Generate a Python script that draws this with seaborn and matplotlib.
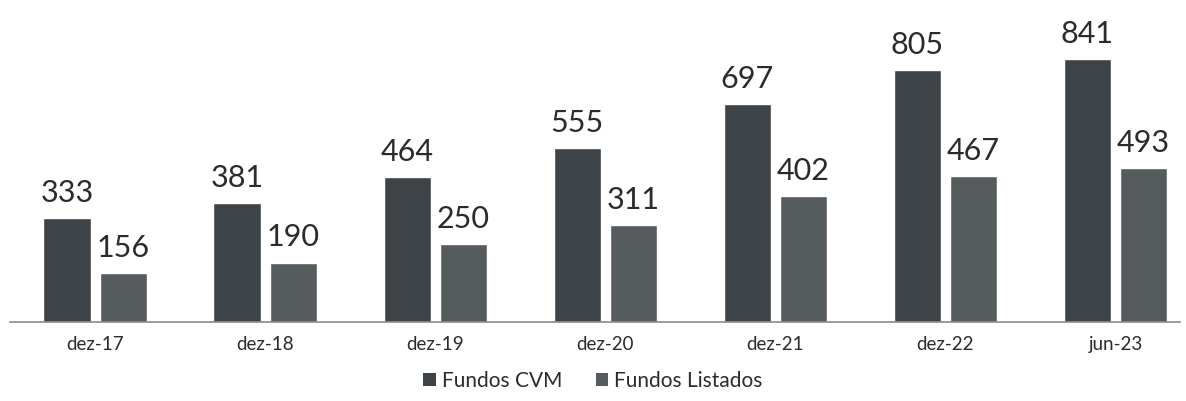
import matplotlib
matplotlib.use("Agg")
import matplotlib.pyplot as plt
import seaborn as sns
import pandas as pd
from matplotlib.patches import Patch

categories = ["dez-17", "dez-18", "dez-19", "dez-20", "dez-21", "dez-22", "jun-23"]
fundos_cvm = [333, 381, 464, 555, 697, 805, 841]
fundos_listados = [156, 190, 250, 311, 402, 467, 493]
series_names = ["Fundos CVM", "Fundos Listados"]

df = pd.DataFrame({
    "cat": categories * 2,
    "val": fundos_cvm + fundos_listados,
    "serie": [series_names[0]] * len(categories) + [series_names[1]] * len(categories),
})

sns.set_theme(style="white")
plt.rcParams["font.family"] = ["Lato", "DejaVu Sans"]

colors = {"Fundos CVM": "#3d4346", "Fundos Listados": "#565b5e"}

fig = plt.figure(figsize=(11.86, 4.01), dpi=100)
ax = fig.add_axes([10 / 1186, 1 - 322 / 401, 1170 / 1186, 322 / 401])
sns.barplot(data=df, x="cat", y="val", hue="serie", palette=colors,
            width=0.66, gap=0.16, ax=ax, legend=False, saturation=1)

for cont in ax.containers:
    ax.bar_label(cont, padding=8, fontsize=22, color="#2b2b2b")

ax.set_ylim(0, 1030)
ax.set_xlim(-0.5, 6.38)
ax.set_xlabel("")
ax.set_ylabel("")
ax.set_yticks([])
for s in ["top", "left", "right"]:
    ax.spines[s].set_visible(False)
ax.spines["bottom"].set_color("#8a8a8a")
ax.spines["bottom"].set_linewidth(1.2)
ax.tick_params(axis="x", length=0, labelsize=13.5, pad=10, colors="#2b2b2b")
for lbl in ax.get_xticklabels():
    lbl.set_x(lbl.get_position()[0])

handles = [Patch(facecolor=colors[n], edgecolor="none") for n in series_names]
fig.legend(handles, series_names, loc="center", bbox_to_anchor=(0.5, 1 - 381 / 401),
           ncol=2, frameon=False, fontsize=15, handlelength=0.6, handleheight=0.6,
           columnspacing=1.6, handletextpad=0.3, labelcolor="#2b2b2b")

fig.savefig("out.png", dpi=100, facecolor="white")
